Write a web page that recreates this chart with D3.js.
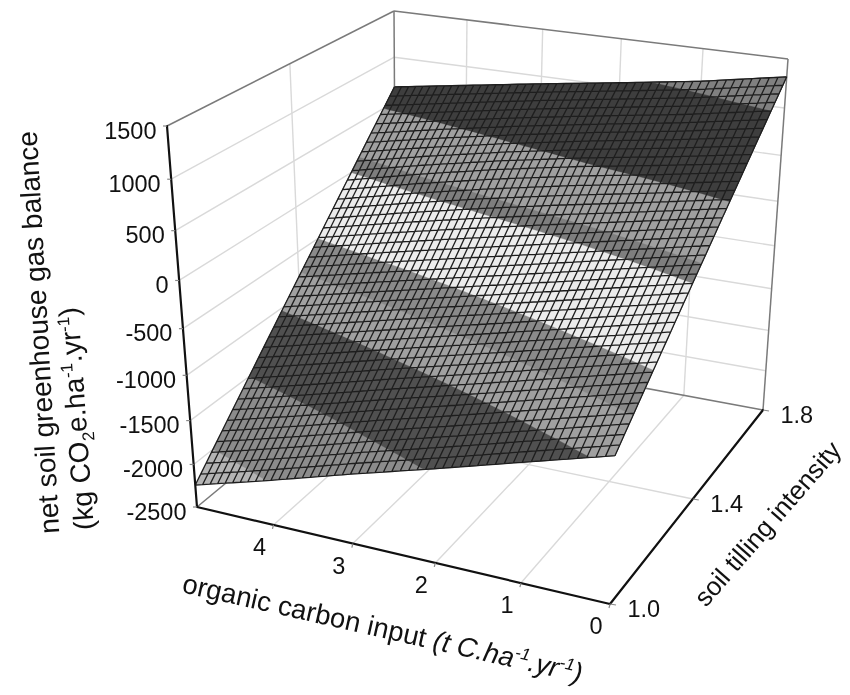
<!DOCTYPE html>
<html>
<head>
<meta charset="utf-8">
<script src="https://cdn.jsdelivr.net/npm/d3@7"></script>
<style>
  html, body { margin: 0; padding: 0; background: #fff; }
  svg { display: block; filter: blur(0.4px); }
  text { font-family: "Liberation Sans", Arial, sans-serif; fill: #111; }
</style>
</head>
<body>
<svg id="chart" width="850" height="695"></svg>
<script>
const xValues = [0, 1, 2, 3, 4, 5];
const yValues = [1.0, 1.4, 1.6, 1.8];
const zAtY10 = [-965, -1215, -1470, -1720, -1985, -2240];
const zAtY14 = [170, -20, -210, -400, -590, -785];
const zAtY16 = [745, 600, 465, 310, 135, -58];
const zAtY18 = [1320, 1165, 1040, 920, 795, 670];

const zTicks = [-2500, -2000, -1500, -1000, -500, 0, 500, 1000, 1500];
const xTickLabels = [0, 1, 2, 3, 4];
const yTickLabels = [1.0, 1.4, 1.8];

const bandLevels = [-2000, -1750, -1500, -1030, -750, -500, 0, 120, 500, 1090];
const bandGreys = ["#b4b4b4", "#8c8c8c", "#8c8c8c", "#505050", "#a0a0a0", "#8a8a8a", "#ececec", "#7e7e7e", "#a0a0a0", "#3e3e3e", "#808080"];

const xMesh = d3.range(51).map((i) => i / 10);
const yMesh = d3.range(41).map((i) => 1 + i / 50);

const width = 850;
const height = 695;

// pixel corners of the plot box: [x, y, z] = 0 is the low end, 1 the high end of each axis
const box = {
  "000": [610, 604], "100": [197, 507], "010": [763, 410], "110": [396, 342],
  "001": [624, 185], "101": [167, 126], "011": [788, 59], "111": [394, 11],
};
const warp = (t, h) => (t * h) / (1 + t * (h - 1));

const xNorm = d3.scaleLinear().domain([0, 5]).range([0, 1]);
const yNorm = d3.scaleLinear().domain([1, 1.8]).range([0, 1]);
const zNorm = d3.scaleLinear().domain([-2500, 1500]).range([0, 1]);

const project = ([x, y, z]) => {
  const u = warp(xNorm(x), 1.1);
  const v = warp(yNorm(y), 1.18);
  const w = warp(zNorm(z), 0.88);
  return [0, 1].map((k) =>
    box["000"][k] * (1 - u) * (1 - v) * (1 - w) +
    box["100"][k] * u * (1 - v) * (1 - w) +
    box["010"][k] * (1 - u) * v * (1 - w) +
    box["110"][k] * u * v * (1 - w) +
    box["001"][k] * (1 - u) * (1 - v) * w +
    box["101"][k] * u * (1 - v) * w +
    box["011"][k] * (1 - u) * v * w +
    box["111"][k] * u * v * w
  );
};

const line = d3.line();
const seg = (points) => line(points.map(project));

const svg = d3.select("#chart").attr("viewBox", [0, 0, width, height]);

// gridlines on the floor and the two walls
const xInner = [1, 2, 3, 4];
const gridLines = [
  ...xInner.map((x) => [[x, 1, -2500], [x, 1.8, -2500]]),
  ...xInner.map((x) => [[x, 1.8, -2500], [x, 1.8, 1500]]),
  [[0, 1.4, -2500], [5, 1.4, -2500]],
  [[5, 1.4, -2500], [5, 1.4, 1500]],
  ...zTicks.slice(1, -1).map((z) => [[5, 1, z], [5, 1.8, z]]),
  ...zTicks.slice(1, -1).map((z) => [[5, 1.8, z], [0, 1.8, z]]),
];
svg.append("g")
  .selectAll("path")
  .data(gridLines)
  .enter()
  .append("path")
  .attr("d", seg)
  .attr("fill", "none")
  .attr("stroke", "#d9d9d9")
  .attr("stroke-width", 1.4);

const wallLines = [
  [[5, 1, 1500], [5, 1.8, 1500]],
  [[5, 1.8, 1500], [0, 1.8, 1500]],
  [[5, 1.8, 1500], [5, 1.8, -2500]],
  [[0, 1.8, 1500], [0, 1.8, -2500]],
  [[5, 1, -2500], [5, 1.8, -2500]],
  [[5, 1.8, -2500], [0, 1.8, -2500]],
];
svg.append("g")
  .selectAll("path")
  .data(wallLines)
  .enter()
  .append("path")
  .attr("d", seg)
  .attr("fill", "none")
  .attr("stroke", "#7a7a7a")
  .attr("stroke-width", 1.5);

// surface heights at the mesh vertices
const rowScales = [zAtY10, zAtY14, zAtY16, zAtY18].map((row) =>
  d3.scaleLinear().domain(xValues).range(row)
);
const zMesh = yMesh.map((y) =>
  xMesh.map((x) =>
    d3.scaleLinear().domain(yValues).range(rowScales.map((s) => s(x)))(y)
  )
);

const bandShade = d3.scaleThreshold().domain(bandLevels).range(bandGreys);

const clipAbove = (poly, level) => {
  const out = [];
  poly.forEach((p, i) => {
    const q = poly[(i + 1) % poly.length];
    if (p[2] >= level) out.push(p);
    if ((p[2] >= level) !== (q[2] >= level)) {
      const t = (level - p[2]) / (q[2] - p[2]);
      out.push([p[0] + t * (q[0] - p[0]), p[1] + t * (q[1] - p[1]), level]);
    }
  });
  return out;
};

const bandPath = (level) => {
  const path = d3.path();
  for (let j = 0; j < yMesh.length - 1; j++) {
    for (let i = 0; i < xMesh.length - 1; i++) {
      const cell = [
        [xMesh[i], yMesh[j], zMesh[j][i]],
        [xMesh[i + 1], yMesh[j], zMesh[j][i + 1]],
        [xMesh[i + 1], yMesh[j + 1], zMesh[j + 1][i + 1]],
        [xMesh[i], yMesh[j + 1], zMesh[j + 1][i]],
      ];
      const poly = clipAbove(cell, level);
      if (poly.length < 3) continue;
      poly.map(project).forEach(([px, py], k) => {
        if (k === 0) path.moveTo(px, py);
        else path.lineTo(px, py);
      });
      path.closePath();
    }
  }
  return path.toString();
};

svg.append("g")
  .selectAll("path")
  .data([-Infinity, ...bandLevels])
  .enter()
  .append("path")
  .attr("d", bandPath)
  .attr("fill", (d) => bandShade(d))
  .attr("stroke", (d) => bandShade(d))
  .attr("stroke-width", 0.3);

// mesh lines
const meshPath = [
  ...yMesh.map((y, j) => seg(xMesh.map((x, i) => [x, y, zMesh[j][i]]))),
  ...xMesh.map((x, i) => seg(yMesh.map((y, j) => [x, y, zMesh[j][i]]))),
].join("");
svg.append("path")
  .attr("d", meshPath)
  .attr("fill", "none")
  .attr("stroke", "#1e1e1e")
  .attr("stroke-width", 1.3);

// axes
const axisLines = [
  [[5, 1, 1500], [5, 1, -2500]],
  [[5, 1, -2500], [0, 1, -2500]],
  [[0, 1, -2500], [0, 1.8, -2500]],
];
svg.append("g")
  .selectAll("path")
  .data(axisLines)
  .enter()
  .append("path")
  .attr("d", seg)
  .attr("fill", "none")
  .attr("stroke", "#111")
  .attr("stroke-width", 2.2)
  .attr("stroke-linecap", "round");

const tickMark = (d3Sel, data, toPoint, dx, dy) =>
  d3Sel.append("g")
    .selectAll("line")
    .data(data)
    .enter()
    .append("line")
    .attr("x1", (d) => project(toPoint(d))[0])
    .attr("y1", (d) => project(toPoint(d))[1])
    .attr("x2", (d) => project(toPoint(d))[0] + dx)
    .attr("y2", (d) => project(toPoint(d))[1] + dy)
    .attr("stroke", "#888")
    .attr("stroke-width", 1.2);

tickMark(svg, zTicks, (z) => [5, 1, z], -4, 0);
tickMark(svg, xTickLabels, (x) => [x, 1, -2500], -1, 4);
tickMark(svg, yTickLabels, (y) => [0, y, -2500], 6, 1);

const tickText = (data, toPoint, dx, dy, anchor, fmt) =>
  svg.append("g")
    .selectAll("text")
    .data(data)
    .enter()
    .append("text")
    .attr("x", (d) => project(toPoint(d))[0] + dx)
    .attr("y", (d) => project(toPoint(d))[1] + dy)
    .attr("text-anchor", anchor)
    .attr("font-size", 23.5)
    .text(fmt);

tickText(zTicks, (z) => [5, 1, z], -10.5, 12.5, "end", (d) => d);
tickText(xTickLabels, (x) => [x, 1, -2500], -14, 30, "middle", (d) => d);
tickText(yTickLabels, (y) => [0, y, -2500], 17.5, 13, "start", (d) => d.toFixed(1));

// axis titles
svg.append("text")
  .attr("transform", "translate(48,332) rotate(-93.2)")
  .attr("text-anchor", "middle")
  .attr("font-size", 28)
  .text("net soil greenhouse gas balance");

const addRuns = (sel, runs) => {
  runs.forEach(([t, kind]) => {
    const span = sel.append("tspan").text(t);
    if (kind === "sub") span.attr("dy", 7).attr("font-size", 17);
    if (kind === "sup") span.attr("dy", -10).attr("font-size", 17);
    if (kind === "subBack") span.attr("dy", -7);
    if (kind === "supBack") span.attr("dy", 10);
    if (kind === "italic") span.attr("font-style", "italic");
    if (kind === "italicSup") span.attr("dy", -10).attr("font-size", 17).attr("font-style", "italic");
    if (kind === "italicBack") span.attr("dy", 10).attr("font-style", "italic");
  });
};

addRuns(
  svg.append("text")
    .attr("transform", "translate(86,418) rotate(-94)")
    .attr("text-anchor", "middle")
    .attr("font-size", 28),
  [["(kg CO"], ["2", "sub"], ["e.ha", "subBack"], ["-1", "sup"], [".yr", "supBack"], ["-1", "sup"], [")", "supBack"]]
);

addRuns(
  svg.append("text")
    .attr("transform", "translate(181,592) rotate(12.8)")
    .attr("font-size", 27.5),
  [["organic carbon input "], ["(t C.ha", "italic"], ["-1", "italicSup"], [".yr", "italicBack"], ["-1", "italicSup"], [")", "italicBack"]]
);

svg.append("text")
  .attr("transform", "translate(706,608) rotate(-49)")
  .attr("font-size", 26)
  .text("soil tilling intensity");
</script>
</body>
</html>
